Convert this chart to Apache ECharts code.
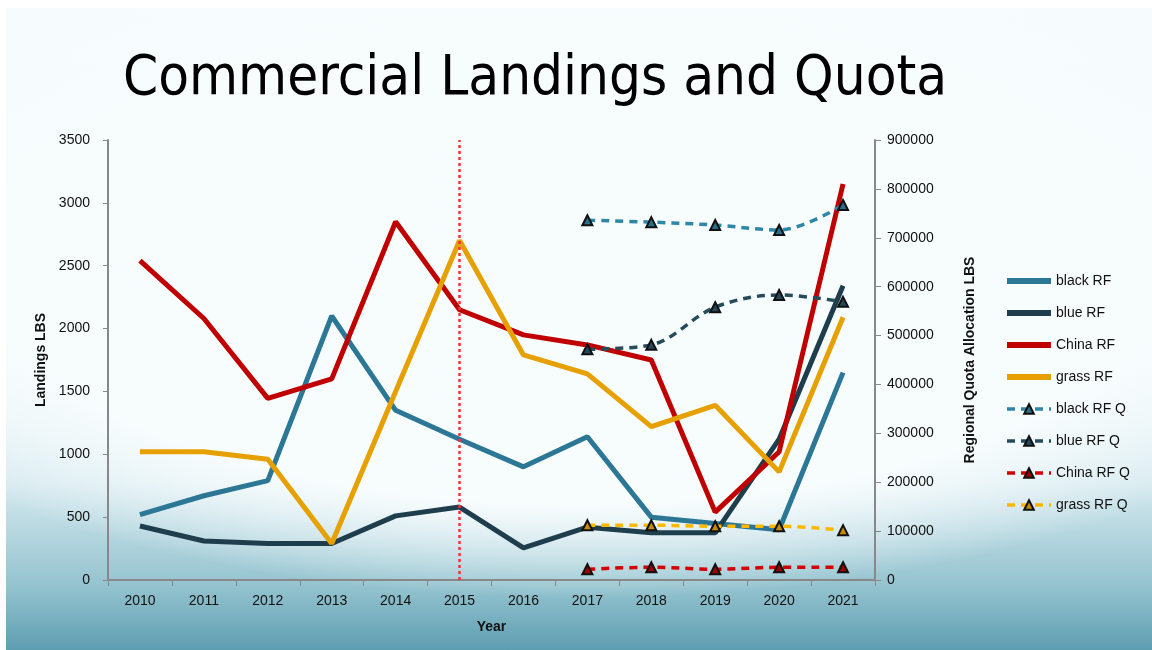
<!DOCTYPE html>
<html>
<head>
<meta charset="utf-8">
<script src="https://cdn.jsdelivr.net/npm/echarts@6/dist/echarts.min.js"></script>
<style>
  html, body { margin: 0; padding: 0; background: #fff; }
  #main {
    position: absolute; left: 6px; top: 8px; width: 1146px; height: 642px;
    background:
      radial-gradient(ellipse 72% 52% at 50% 40%, rgba(247,252,253,1) 72%, rgba(247,252,253,0) 100%),
      linear-gradient(to bottom, #f6fbfd 0%, #f1f8fa 55%, #d5e9ef 74%, #94c3cf 90%, #5e9eb1 100%);
  }
</style>
</head>
<body>
<div id="main"></div>
<script>
var years = ['2010', '2011', '2012', '2013', '2014', '2015', '2016', '2017', '2018', '2019', '2020', '2021'];

// landings, LBS (left axis)
var blackRF = [520, 670, 790, 2100, 1350, 1120, 900, 1140, 500, 450, 400, 1650];
var blueRF  = [430, 310, 290, 290, 510, 580, 255, 420, 375, 375, 1120, 2340];
var chinaRF = [2540, 2080, 1445, 1600, 2850, 2150, 1950, 1870, 1750, 540, 1020, 3150];
var grassRF = [1020, 1020, 960, 290, 1500, 2700, 1790, 1640, 1220, 1390, 860, 2090];

// regional quota allocation, LBS (right axis), 2017-2021 only
var blackQ = [null, null, null, null, null, null, null, 736000, 732000, 726000, 716000, 767000];
var blueQ  = [null, null, null, null, null, null, null, 472000, 481000, 558000, 583000, 569000];
var chinaQ = [null, null, null, null, null, null, null, 22000, 26000, 22000, 26000, 26000];
var grassQ = [null, null, null, null, null, null, null, 112000, 112000, 110000, 110000, 102000];

var chart = echarts.init(document.getElementById('main'));

function solid(name, data, color) {
  return {
    name: name, type: 'line', data: data, yAxisIndex: 0,
    symbol: 'none', color: color,
    lineStyle: { width: 5, color: color }
  };
}
function quota(name, data, color, fill) {
  return {
    name: name, type: 'line', data: data, yAxisIndex: 1,
    smooth: 0.35, symbol: 'triangle', symbolSize: 10, color: color,
    lineStyle: { width: 3.5, type: [8, 6], color: color },
    itemStyle: { color: fill, borderColor: '#111', borderWidth: 2 }
  };
}

var markSeries = solid('black RF', blackRF, '#2c7796');
markSeries.markLine = {
  silent: true, symbol: 'none', label: { show: false },
  lineStyle: { color: '#ff3030', type: [3, 3], width: 2.5 },
  data: [{ xAxis: '2015' }]
};

var plain = function (v) { return String(v); };

chart.setOption({
  textStyle: { fontFamily: 'Liberation Sans' },
  title: {
    text: 'Commercial Landings and Quota',
    left: 112, top: 38,
    textStyle: { fontFamily: 'DejaVu Sans Condensed', fontWeight: 'normal', fontSize: 56, color: '#000' }
  },
  legend: {
    orient: 'vertical', left: 993, top: 261,
    itemWidth: 44, itemHeight: 12, itemGap: 18,
    textStyle: { fontSize: 14, color: '#111' },
    data: [
      { name: 'black RF', itemStyle: { opacity: 0 }, lineStyle: { width: 6 } },
      { name: 'blue RF', itemStyle: { opacity: 0 }, lineStyle: { width: 6 } },
      { name: 'China RF', itemStyle: { opacity: 0 }, lineStyle: { width: 6 } },
      { name: 'grass RF', itemStyle: { opacity: 0 }, lineStyle: { width: 6 } },
      { name: 'black RF Q', lineStyle: { width: 3.5 } },
      { name: 'blue RF Q', lineStyle: { width: 3.5 } },
      { name: 'China RF Q', lineStyle: { width: 3.5 } },
      { name: 'grass RF Q', lineStyle: { width: 3.5 } }
    ]
  },
  grid: { left: 102, right: 277, top: 132, bottom: 70 },
  xAxis: {
    type: 'category', data: years, boundaryGap: true,
    name: 'Year', nameLocation: 'middle', nameGap: 40,
    nameTextStyle: { fontWeight: 'bold', fontSize: 14, color: '#111' },
    axisLine: { lineStyle: { color: '#888', width: 2 } },
    axisTick: { show: true, length: 6, lineStyle: { color: '#888' } },
    axisLabel: { fontSize: 14, color: '#111', margin: 14 }
  },
  yAxis: [{
    type: 'value', min: 0, max: 3500, interval: 500,
    name: 'Landings LBS', nameLocation: 'middle', nameGap: 60,
    nameTextStyle: { fontWeight: 'bold', fontSize: 14, color: '#111' },
    axisLine: { show: true, lineStyle: { color: '#888', width: 2 } },
    axisTick: { show: true, length: 5, lineStyle: { color: '#888' } },
    axisLabel: { fontSize: 14, color: '#111', margin: 18, formatter: plain },
    splitLine: { show: false }
  }, {
    type: 'value', min: 0, max: 900000, interval: 100000,
    name: 'Regional Quota Allocation LBS', nameLocation: 'middle', nameGap: 88,
    nameTextStyle: { fontWeight: 'bold', fontSize: 14, color: '#111' },
    axisLine: { show: true, lineStyle: { color: '#888', width: 2 } },
    axisTick: { show: true, length: 6, lineStyle: { color: '#888' } },
    axisLabel: { fontSize: 14, color: '#111', margin: 12, formatter: plain },
    splitLine: { show: false }
  }],
  series: [
    markSeries,
    solid('blue RF', blueRF, '#1f3e4d'),
    solid('China RF', chinaRF, '#c00000'),
    solid('grass RF', grassRF, '#e6a100'),
    quota('black RF Q', blackQ, '#2f87a8', '#2a6f8a'),
    quota('blue RF Q', blueQ, '#264c5c', '#24485a'),
    quota('China RF Q', chinaQ, '#d40000', '#9a0000'),
    quota('grass RF Q', grassQ, '#ffb800', '#c48a00')
  ]
});
</script>
</body>
</html>
